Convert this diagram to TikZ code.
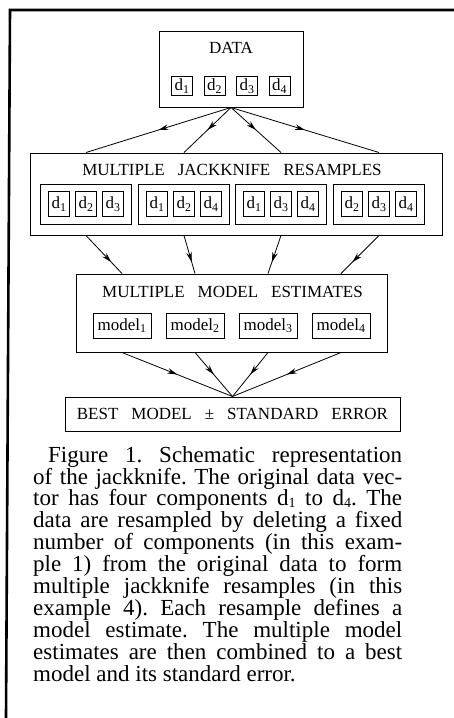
\documentclass[tikz,border=0pt]{standalone}
\usepackage{fontspec}
\setmainfont{Liberation Serif}
\usetikzlibrary{arrows.meta,decorations.markings}
\newcommand{\capsfont}{\fontsize{17}{19}\selectfont\spaceskip=13pt plus 2pt\relax}
\newcommand{\itemfont}{\fontsize{17}{19}\selectfont}
\newcommand{\captionfont}{\fontsize{23}{21.9}\selectfont\frenchspacing\tolerance=10000\relax}
\newcommand{\capidx}[1]{\raisebox{-.08em}{\fontsize{14}{14}\selectfont #1}}
\tikzset{
    frame line/.style={line width=2.6pt},
    outer box/.style={draw, line width=1pt, inner sep=0pt},
    group box/.style={
        draw,
        line width=.9pt,
        inner sep=0pt,
        minimum width=91pt,
        minimum height=40pt
    },
    item box/.style={
        draw,
        line width=.8pt,
        inner xsep=3pt,
        inner ysep=0pt,
        minimum height=#1,
        font=\itemfont
    },
    item box/.default=19pt,
    model box/.style={item box=25pt, minimum width=58pt},
    caps label/.style={inner sep=0pt, font=\capsfont},
    flow arrow/.style={
        line width=.8pt,
        postaction={decorate,
            decoration={markings, mark=at position #1 with {\arrow{>}}}}
    },
    flow arrow/.default=.5,
    caption text/.style={
        inner sep=0pt,
        anchor=north west,
        text width=369pt,
        align=justify,
        font=\captionfont
    }
}

\begin{document}
\begin{tikzpicture}[x=1pt,y=-1pt,>={Stealth[length=10pt,width=5.5pt]}]
    \useasboundingbox (0,0) rectangle (454,718);
    \draw[frame line] (454,10) -- (10,10) -- (6,718);

    \node[outer box, minimum width=144pt, minimum height=76pt] (data) at (231,69) {};
    \node[caps label] (datatitle) at (231,48) {DATA};
    \node[item box] (d1) at (182,86) {d\textsubscript{1}};
    \node[item box] (d2) at (214.5,86) {d\textsubscript{2}};
    \node[item box] (d3) at (247,86) {d\textsubscript{3}};
    \node[item box] (d4) at (279.5,86) {d\textsubscript{4}};

    \node[outer box, minimum width=412pt, minimum height=82pt] (res) at (236,194) {};
    \node[caps label] (restitle) at (232,170) {MULTIPLE JACKKNIFE RESAMPLES};
    \node[group box] (r1) at (86,204) {};
    \node[group box] (r2) at (184,204) {};
    \node[group box] (r3) at (281,204) {};
    \node[group box] (r4) at (379,204) {};
    \foreach \g/\a/\b/\c in {r1/1/2/3, r2/1/2/4, r3/1/3/4, r4/2/3/4}{
        \node[item box=25pt] (\g a) at ([xshift=-27pt]\g.center) {d\textsubscript{\a}};
        \node[item box=25pt] (\g b) at (\g.center) {d\textsubscript{\b}};
        \node[item box=25pt] (\g c) at ([xshift=27pt]\g.center) {d\textsubscript{\c}};
    }

    \node[outer box, minimum width=311pt, minimum height=78pt] (mod) at (231.5,313) {};
    \node[caps label] (modtitle) at (232.5,292) {MULTIPLE MODEL ESTIMATES};
    \node[model box] (m1) at (122,325.5) {model\textsubscript{1}};
    \node[model box] (m2) at (195,325.5) {model\textsubscript{2}};
    \node[model box] (m3) at (268,325.5) {model\textsubscript{3}};
    \node[model box] (m4) at (341,325.5) {model\textsubscript{4}};

    \node[outer box, minimum width=335pt, minimum height=34pt, font=\capsfont]
        (best) at (232.5,414) {BEST MODEL ± STANDARD ERROR};

    \foreach \g in {r1,r2,r3,r4}
        \draw[flow arrow] (data.south) -- (res.north -| \g);
    \foreach \g/\m in {r1/m1, r2/m2, r3/m3, r4/m4}
        \draw[flow arrow=.7] (res.south -| \g) -- (mod.north -| \m);
    \foreach \m in {m1,m2,m3,m4}
        \draw[flow arrow] (mod.south -| \m) -- (best.north);

    \node[caption text] (caption) at (33,446) {\hspace*{15pt}Figure 1. Schematic representation\linebreak
        of the jackknife. The original data vec-\linebreak
        tor has four components d\capidx{1} to d\capidx{4}. The\linebreak
        data are resampled by deleting a fixed\linebreak
        number of components (in this exam-\linebreak
        ple 1) from the original data to form\linebreak
        multiple jackknife resamples (in this\linebreak
        example 4). Each resample defines a\linebreak
        model estimate. The multiple model\linebreak
        estimates are then combined to a best\linebreak
        model and its standard error.};
\end{tikzpicture}
\end{document}
